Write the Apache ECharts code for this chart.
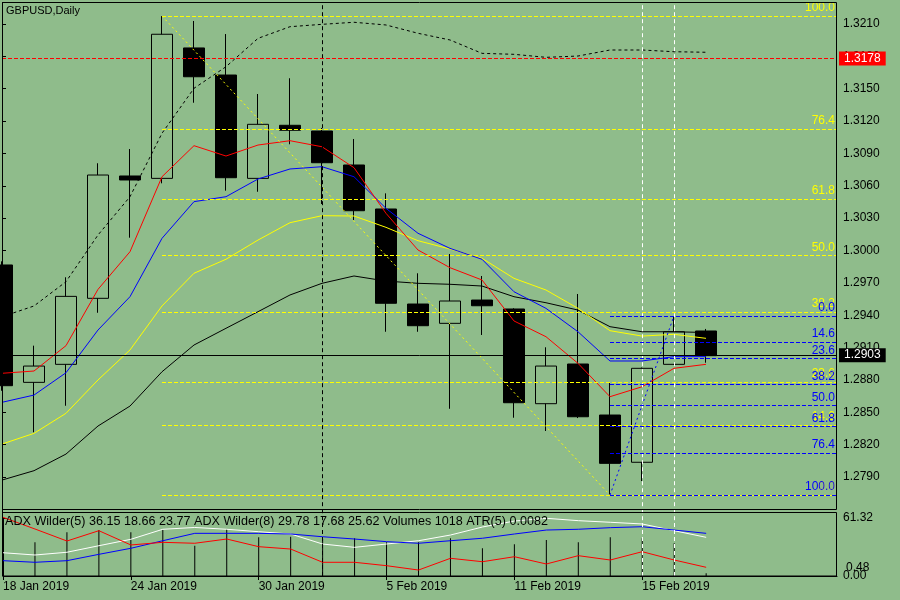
<!DOCTYPE html>
<html>
<head>
<meta charset="utf-8">
<script src="https://cdn.jsdelivr.net/npm/echarts@6/dist/echarts.min.js"></script>
<style>
html,body{margin:0;padding:0;background:#8fbc8b;}
#c{width:900px;height:600px;}
</style>
</head>
<body>
<div id="c"></div>
<script>
// ---- data ----
const dates = ['18 Jan 2019','21 Jan 2019','22 Jan 2019','23 Jan 2019','24 Jan 2019','25 Jan 2019','28 Jan 2019','29 Jan 2019','30 Jan 2019','31 Jan 2019','1 Feb 2019','4 Feb 2019','5 Feb 2019','6 Feb 2019','7 Feb 2019','8 Feb 2019','11 Feb 2019','12 Feb 2019','13 Feb 2019','14 Feb 2019','15 Feb 2019','18 Feb 2019','19 Feb 2019'];
const opens  = [1.29866,1.28778,1.28945,1.29557,1.30691,1.30669,1.31878,1.31627,1.30669,1.31161,1.31108,1.30793,1.30385,1.29504,1.29325,1.29541,1.29458,1.28580,1.28948,1.28475,1.28037,1.28945,1.29254];
const closes = [1.28747,1.28929,1.29575,1.30700,1.30654,1.32005,1.31611,1.30675,1.31170,1.31115,1.30814,1.30369,1.29511,1.29303,1.29532,1.29488,1.28589,1.28929,1.28459,1.28027,1.28908,1.29247,1.29025];
const lows   = [1.28700,1.28315,1.28561,1.29423,1.30119,1.30623,1.31370,1.30555,1.30545,1.30985,1.30431,1.30283,1.29247,1.29247,1.28533,1.29217,1.28450,1.28327,1.28447,1.27733,1.27863,1.28940,1.28960];
const highs  = [1.29900,1.29118,1.29752,1.30809,1.30941,1.32174,1.32128,1.32007,1.31451,1.31597,1.31136,1.31034,1.30530,1.29789,1.29968,1.29764,1.29465,1.29103,1.29597,1.28778,1.28915,1.29393,1.29273];

const maRed    = [1.28862,1.28883,1.29118,1.29640,1.29989,1.30684,1.30972,1.30876,1.30978,1.31018,1.30962,1.30768,1.30345,1.30005,1.29841,1.29727,1.29347,1.29201,1.28954,1.28645,1.28737,1.28908,1.28945];
const maBlue   = [1.28593,1.28660,1.28867,1.29263,1.29572,1.30113,1.30453,1.30499,1.30663,1.30756,1.30777,1.30684,1.30391,1.30160,1.30020,1.29919,1.29618,1.29464,1.29247,1.28976,1.28976,1.29016,1.29016];
const maYellow = [1.28206,1.28305,1.28491,1.28800,1.29078,1.29486,1.29789,1.29919,1.30097,1.30258,1.30323,1.30320,1.30215,1.30091,1.30014,1.29928,1.29742,1.29634,1.29464,1.29257,1.29207,1.29223,1.29186];
const maBlack  = [1.27872,1.27959,1.28113,1.28373,1.28558,1.28876,1.29124,1.29279,1.29433,1.29588,1.29696,1.29764,1.29717,1.29696,1.29687,1.29671,1.29572,1.29516,1.29448,1.29294,1.29247,1.29247,1.29240];
const maDotted = [1.29386,1.29486,1.29711,1.30144,1.30499,1.31087,1.31504,1.31704,1.31967,1.32075,1.32097,1.32116,1.32091,1.32014,1.31952,1.31828,1.31819,1.31791,1.31803,1.31859,1.31859,1.31843,1.31838];

const adxWhite = [24.6,22.2,25.1,32.0,38.8,49.4,51.3,49.4,46.8,44.4,33.8,30.3,33.8,37.3,43.3,51.8,58.1,61.0,58.5,56.8,55.0,47.9,40.9];
const adxBlue  = [16.2,14.5,16.2,22.9,29.3,37.3,45.1,45.1,45.1,44.4,41.5,39.1,36.3,34.6,37.3,39.9,44.4,48.6,49.4,51.1,52.1,48.6,45.1];
const adxRed   = [62.0,49.7,37.0,47.9,32.8,35.6,34.6,39.1,31.0,28.5,14.5,14.5,10.9,6.3,18.7,15.1,20.4,12.7,21.5,16.9,25.7,16.9,9.2];
const volumes  = [13000,12720,16500,17370,16500,17370,11440,17630,14610,14840,13970,14230,12720,12720,14230,10460,11970,13590,12720,14610,14230,12350,1018];

const priceTicks = [1.2790,1.2820,1.2850,1.2880,1.2910,1.2940,1.2970,1.3000,1.3030,1.3060,1.3090,1.3120,1.3150,1.3180,1.3210];
const dateTicks = [0,4,8,12,16,20];
const fibLevels = [0,14.6,23.6,38.2,50,61.8,76.4,100];
const subTicks = [0,61.32];
const bidPrice = 1.2903;
const hLinePrice = 1.3178;
const legendText = 'ADX Wilder(5) 36.15 18.66 23.77 ADX Wilder(8) 29.78 17.68 25.62 Volumes 1018 ATR(5) 0.0082';

// ---- build ----
const X_MAX = 26.094;
const FONT = 'Liberation Sans';
const idx = dates.map((d,i)=>i);
const pts = arr => arr.map((v,i)=>[i,v]);
const candleData = idx.map(i=>[i, opens[i], closes[i], lows[i], highs[i]]);

const yHigh = highs[5], yLow = lows[19], bHigh = highs[21];
const yellowFib = fibLevels.map(L=>[{coord:[5, yLow + L/100*(yHigh-yLow)], name:L.toFixed(1)},{coord:[X_MAX, yLow + L/100*(yHigh-yLow)]}]);
const blueFib = fibLevels.map(L=>[{coord:[19, bHigh - L/100*(bHigh-yLow)], name:L.toFixed(1)},{coord:[X_MAX, bHigh - L/100*(bHigh-yLow)]}]);

const lineS = (data,color,type,xi,yi)=>({type:'line',data,xAxisIndex:xi,yAxisIndex:yi,symbol:'none',clip:false,silent:true,
  lineStyle:{color,width:1,type:type||'solid'},emphasis:{disabled:true}});

const vlines = [
  {xAxis:10, lineStyle:{color:'#000',type:[4,3],width:1}},
  {xAxis:20, lineStyle:{color:'#fff',type:[4,3],width:1}},
  {xAxis:21, lineStyle:{color:'#fff',type:[4,3],width:1}}
];
const priceLines = [
  [{coord:[0,hLinePrice],lineStyle:{color:'#ff0000',type:[4,2],width:1},
    label:{show:true,position:'end',distance:2,formatter:hLinePrice.toFixed(4),backgroundColor:'#ff0000',color:'#fff',padding:[1,5,1,5],fontSize:12,fontFamily:FONT}},
   {coord:[X_MAX,hLinePrice]}],
  [{coord:[0,bidPrice],lineStyle:{color:'#000',type:'solid',width:1},
    label:{show:true,position:'end',distance:2,formatter:bidPrice.toFixed(4),backgroundColor:'#000',color:'#fff',padding:[1,5,1,5],fontSize:12,fontFamily:FONT}},
   {coord:[X_MAX,bidPrice]}]
];

const chart = echarts.init(document.getElementById('c'));
chart.setOption({
  backgroundColor:'#8fbc8b',
  animation:false,
  textStyle:{fontFamily:FONT},
  title:[
    {text:'GBPUSD,Daily',left:6,top:5,padding:0,textStyle:{fontSize:11,fontWeight:'normal',color:'#000',fontFamily:FONT}},
    {text:legendText,left:5,top:515,padding:0,textStyle:{fontSize:12.6,fontWeight:'normal',color:'#000',fontFamily:FONT}}
  ],
  grid:[
    {left:2,right:63,top:2.43,height:517.77,show:false},
    {left:2,right:63,top:518,height:58,show:false}
  ],
  xAxis:[
    {type:'value',gridIndex:0,min:0,max:X_MAX,show:false},
    {type:'value',gridIndex:1,min:0,max:X_MAX,splitLine:{show:false},
     axisLine:{show:true,lineStyle:{color:'#000'}},
     axisTick:{show:true,customValues:dateTicks,length:4,lineStyle:{color:'#000'}},
     axisLabel:{show:true,customValues:dateTicks,align:'left',margin:5,color:'#000',fontSize:12,fontFamily:FONT,formatter:v=>dates[Math.round(v)]||''}}
  ],
  yAxis:[
    {type:'value',gridIndex:0,position:'right',min:1.2750,max:1.3230,splitLine:{show:false},
     axisLine:{show:true,lineStyle:{color:'#000'}},
     axisTick:{show:true,customValues:priceTicks,length:4,lineStyle:{color:'#000'}},
     axisLabel:{show:true,customValues:priceTicks,margin:6,color:'#000',fontSize:12,fontFamily:FONT,formatter:v=>v.toFixed(4)}},
    {type:'value',gridIndex:1,position:'right',min:0,max:61.32,splitLine:{show:false},
     axisLine:{show:true,lineStyle:{color:'#000'}},
     axisTick:{show:true,customValues:subTicks,length:4,lineStyle:{color:'#000'}},
     axisLabel:{show:true,customValues:subTicks,margin:6,color:'#000',fontSize:12,fontFamily:FONT,formatter:v=>v.toFixed(2)}},
    {type:'value',gridIndex:1,min:0,max:21900,show:false}
  ],
  graphic:[
    {type:'rect',silent:true,z:50,shape:{x:2.5,y:2.5,width:834,height:507},style:{fill:null,stroke:'#000',lineWidth:1}},
    {type:'rect',silent:true,z:50,shape:{x:2.5,y:512.5,width:834,height:63.5},style:{fill:null,stroke:'#000',lineWidth:1}},
    {type:'text',silent:true,z:50,left:846,top:562,style:{text:'0.48',fill:'#000',font:'12px '+FONT}}
  ],
  series:[
    {type:'candlestick',xAxisIndex:0,yAxisIndex:0,data:candleData,barWidth:22,silent:true,
     itemStyle:{color:'rgba(0,0,0,0)',color0:'#000',borderColor:'#000',borderColor0:'#000',borderWidth:1},
     markLine:{symbol:['none','none'],silent:true,animation:false,label:{show:false},data:vlines}
    },
    Object.assign(lineS(pts(maDotted),'#000',[3,3],0,0),{
      markLine:{symbol:['none','none'],silent:true,animation:false,data:priceLines}}),
    lineS(pts(maBlack),'#000','solid',0,0),
    lineS(pts(maYellow),'#ffff00','solid',0,0),
    lineS(pts(maBlue),'#0000ff','solid',0,0),
    lineS(pts(maRed),'#ff0000','solid',0,0),
    Object.assign(lineS([[5,yHigh],[19,yLow]],'#ffff00',[2,3],0,0),{
      markLine:{symbol:['none','none'],silent:true,animation:false,
        lineStyle:{color:'#ffff00',type:[4,2],width:1},
        label:{show:true,position:'insideEndTop',distance:2,color:'#ffff00',fontSize:12,fontFamily:FONT,formatter:'{b}'},
        data:yellowFib}}),
    Object.assign(lineS([[19,yLow],[21,bHigh]],'#0000ff',[2,3],0,0),{
      markLine:{symbol:['none','none'],silent:true,animation:false,
        lineStyle:{color:'#0000ff',type:[4,2],width:1},
        label:{show:true,position:'insideEndTop',distance:2,color:'#0000ff',fontSize:12,fontFamily:FONT,formatter:'{b}'},
        data:blueFib}}),
    {type:'bar',xAxisIndex:1,yAxisIndex:2,data:pts(volumes),barWidth:1,silent:true,itemStyle:{color:'#000'},
     markLine:{symbol:['none','none'],silent:true,animation:false,label:{show:false},data:vlines}},
    lineS(pts(adxWhite),'#ffffff','solid',1,1),
    lineS(pts(adxBlue),'#0000ff','solid',1,1),
    lineS(pts(adxRed),'#ff0000','solid',1,1)
  ]
});
</script>
</body>
</html>
